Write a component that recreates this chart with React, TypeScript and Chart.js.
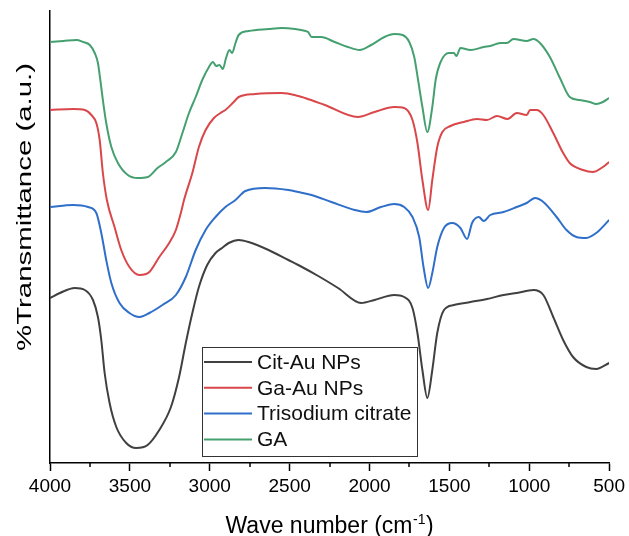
import React, { useEffect, useRef } from "react";
import { Chart, registerables } from "chart.js";

Chart.register(...registerables);

// ---- Data (wavenumber cm^-1, transmittance a.u.) ----
const citWave = [4000, 3938, 3845, 3782, 3731, 3700, 3679, 3658, 3627, 3585, 3523, 3461, 3389, 3316, 3243, 3192, 3150, 3109, 3068, 3016, 2964, 2923, 2881, 2819, 2757, 2632, 2508, 2446, 2321, 2197, 2052, 1969, 1845, 1783, 1731, 1700, 1669, 1638, 1607, 1576, 1534, 1472, 1368, 1265, 1161, 1078, 974, 912, 850, 788, 726, 643, 581, 500];
const citValues = [165, 170, 175, 173, 163, 146, 123, 90, 60, 36, 20, 15, 18, 33, 56, 86, 120, 150, 176, 198, 210, 215, 220, 223, 221, 213, 203, 198, 187, 175, 160, 163, 168, 166, 155, 130, 93, 65, 93, 130, 153, 158, 161, 164, 168, 170, 173, 168, 146, 123, 106, 96, 94, 100];

const gaAuWave = [4000, 3855, 3782, 3741, 3710, 3689, 3669, 3644, 3596, 3554, 3503, 3440, 3378, 3316, 3254, 3212, 3181, 3161, 3109, 3068, 3026, 2974, 2933, 2902, 2850, 2819, 2715, 2550, 2446, 2404, 2280, 2073, 1969, 1845, 1783, 1731, 1700, 1669, 1633, 1607, 1576, 1544, 1493, 1410, 1327, 1265, 1202, 1136, 1078, 1016, 995, 954, 912, 850, 788, 747, 664, 602, 539, 500];
const gaAuValues = [353, 354, 353, 348, 340, 323, 290, 263, 236, 213, 196, 188, 191, 206, 220, 233, 250, 263, 290, 316, 333, 345, 350, 353, 361, 366, 369, 370, 367, 365, 358, 346, 351, 356, 355, 343, 320, 283, 253, 283, 316, 331, 337, 341, 344, 343, 347, 344, 350, 348, 353, 353, 348, 330, 310, 300, 293, 291, 296, 301];

const citrateWave = [4000, 3855, 3762, 3710, 3679, 3648, 3616, 3565, 3503, 3440, 3378, 3296, 3212, 3150, 3088, 3026, 2964, 2902, 2839, 2777, 2653, 2508, 2446, 2363, 2239, 2093, 2021, 1928, 1845, 1783, 1731, 1689, 1662, 1633, 1607, 1576, 1534, 1482, 1431, 1389, 1358, 1316, 1285, 1244, 1161, 1078, 1016, 964, 912, 829, 767, 705, 643, 581, 500];
const citrateValues = [256, 258, 256, 250, 230, 203, 180, 160, 150, 146, 150, 158, 168, 186, 213, 233, 246, 256, 263, 272, 275, 273, 271, 268, 261, 253, 251, 256, 259, 256, 246, 226, 196, 175, 190, 216, 235, 240, 235, 224, 240, 246, 242, 248, 251, 256, 260, 265, 261, 246, 233, 226, 225, 230, 243];

const gaWave = [4000, 3917, 3834, 3793, 3751, 3720, 3700, 3685, 3669, 3648, 3616, 3575, 3513, 3451, 3389, 3327, 3275, 3212, 3171, 3130, 3088, 3047, 3005, 2980, 2960, 2939, 2918, 2898, 2877, 2860, 2839, 2819, 2757, 2632, 2550, 2466, 2400, 2384, 2363, 2303, 2218, 2135, 2062, 1990, 1907, 1845, 1793, 1751, 1720, 1696, 1669, 1638, 1607, 1586, 1555, 1503, 1472, 1456, 1431, 1368, 1285, 1244, 1182, 1140, 1099, 1016, 974, 933, 871, 808, 747, 684, 622, 581, 539, 500];
const gaValues = [421, 422, 423, 421, 418, 410, 400, 383, 363, 340, 316, 300, 288, 285, 286, 295, 301, 311, 330, 350, 366, 383, 396, 401, 397, 398, 394, 405, 413, 410, 420, 428, 432, 434, 435, 434, 432, 431, 426, 426, 421, 416, 413, 418, 426, 429, 428, 421, 406, 383, 356, 331, 356, 383, 401, 410, 410, 407, 415, 413, 416, 417, 420, 420, 424, 422, 424, 420, 406, 385, 366, 363, 361, 359, 361, 365];

const seriesLabels = ["Cit-Au NPs", "Ga-Au NPs", "Trisodium citrate", "GA"];
const seriesColors = ["#404040", "#d9474a", "#2f6fc9", "#45a070"];

const majorTicks = [4000, 3500, 3000, 2500, 2000, 1500, 1000, 500];
const minorTicks = [3750, 3250, 2750, 2250, 1750, 1250, 750];

const xTitleMain = "Wave number (cm";
const xTitleSup = "-1";
const xTitleEnd = ")";
const yTitle = "%Transmittance (a.u.)";

const FONT = '"Liberation Sans", Arial, sans-serif';

function zip(w: number[], v: number[]) {
  return w.map((x, i) => ({ x, y: v[i] }));
}

const overlayPlugin = {
  id: "overlay",
  afterDraw(chart: any) {
    const ctx = chart.ctx as CanvasRenderingContext2D;
    const xs = chart.scales.x;
    const area = chart.chartArea;
    ctx.save();
    // minor ticks
    ctx.strokeStyle = "#000";
    ctx.lineWidth = 1.5;
    minorTicks.forEach((v) => {
      const px = Math.round(xs.getPixelForValue(v));
      ctx.beginPath();
      ctx.moveTo(px, area.bottom);
      ctx.lineTo(px, area.bottom + 4);
      ctx.stroke();
    });

    // x title with superscript
    ctx.fillStyle = "#000";
    ctx.textBaseline = "alphabetic";
    ctx.textAlign = "left";
    const mainFont = `23px ${FONT}`;
    const supFont = `14px ${FONT}`;
    ctx.font = mainFont;
    const w1 = ctx.measureText(xTitleMain).width;
    const w3 = ctx.measureText(xTitleEnd).width;
    ctx.font = supFont;
    const w2 = ctx.measureText(xTitleSup).width;
    const total = w1 + w2 + w3 + 1;
    let sx = (area.left + area.right) / 2 - total / 2;
    const base = 533;
    ctx.font = mainFont;
    ctx.fillText(xTitleMain, sx, base);
    sx += w1 + 0.5;
    ctx.font = supFont;
    ctx.fillText(xTitleSup, sx, base - 9);
    sx += w2 + 0.5;
    ctx.font = mainFont;
    ctx.fillText(xTitleEnd, sx, base);

    // y title (rotated)
    ctx.save();
    ctx.font = `20px ${FONT}`;
    const wy = ctx.measureText(yTitle).width;
    ctx.translate(25, 207);
    ctx.rotate(-Math.PI / 2);
    ctx.scale(288 / wy, 1);
    ctx.textAlign = "center";
    ctx.textBaseline = "middle";
    ctx.fillText(yTitle, 0, 0);
    ctx.restore();

    // legend box
    const bx = 202.5, by = 347.5, bw = 215, bh = 109;
    ctx.fillStyle = "#fff";
    ctx.fillRect(bx, by, bw, bh);
    ctx.strokeStyle = "#333";
    ctx.lineWidth = 1;
    ctx.strokeRect(bx, by, bw, bh);
    ctx.font = `21px ${FONT}`;
    ctx.textAlign = "left";
    ctx.textBaseline = "middle";
    chart.data.datasets.forEach((ds: any, i: number) => {
      const y = 362 + i * 25.8;
      ctx.strokeStyle = ds.borderColor;
      ctx.lineWidth = 2;
      ctx.beginPath();
      ctx.moveTo(204, y);
      ctx.lineTo(252, y);
      ctx.stroke();
      ctx.fillStyle = "#111";
      ctx.fillText(ds.label, 257, y + 1);
    });
    ctx.restore();
  },
};

export default function App() {
  const ref = useRef<HTMLCanvasElement | null>(null);
  useEffect(() => {
    if (!ref.current) return;
    const sets = [
      zip(citWave, citValues),
      zip(gaAuWave, gaAuValues),
      zip(citrateWave, citrateValues),
      zip(gaWave, gaValues),
    ];
    const chart = new Chart(ref.current, {
      type: "line",
      data: {
        datasets: sets.map((d, i) => ({
          label: seriesLabels[i],
          data: d,
          borderColor: seriesColors[i],
          backgroundColor: seriesColors[i],
          borderWidth: 2,
          pointRadius: 0,
          fill: false,
          cubicInterpolationMode: "monotone" as const,
        })),
      },
      options: {
        animation: false,
        responsive: false,
        layout: { padding: { left: 0, top: 11, right: 16, bottom: 0 } },
        plugins: { legend: { display: false }, tooltip: { enabled: false } },
        scales: {
          x: {
            type: "linear",
            reverse: true,
            min: 500,
            max: 4000,
            afterFit: (s: any) => {
              s.height = 73;
            },
            afterBuildTicks: (s: any) => {
              s.ticks = majorTicks.map((v) => ({ value: v }));
            },
            ticks: {
              color: "#000",
              font: { size: 19, family: FONT },
              padding: 4,
              maxRotation: 0,
              autoSkip: false,
              callback: (v: any) => String(v),
            },
            grid: {
              display: true,
              drawOnChartArea: false,
              drawTicks: true,
              tickLength: 8,
              tickWidth: 1.5,
              tickColor: "#000",
            },
            border: { display: true, color: "#000", width: 1.5 },
          },
          y: {
            type: "linear",
            min: 0,
            max: 452,
            afterFit: (s: any) => {
              s.width = 50;
            },
            ticks: { display: false },
            grid: { display: false, drawTicks: false },
            border: { display: true, color: "#000", width: 1.5 },
          },
        },
      },
      plugins: [overlayPlugin],
    });
    return () => chart.destroy();
  }, []);
  return (
    <div style={{ position: "fixed", left: 0, top: 0, width: 629, height: 536, background: "#fff" }}>
      <canvas ref={ref} width={629} height={536} style={{ width: 629, height: 536 }} />
    </div>
  );
}
